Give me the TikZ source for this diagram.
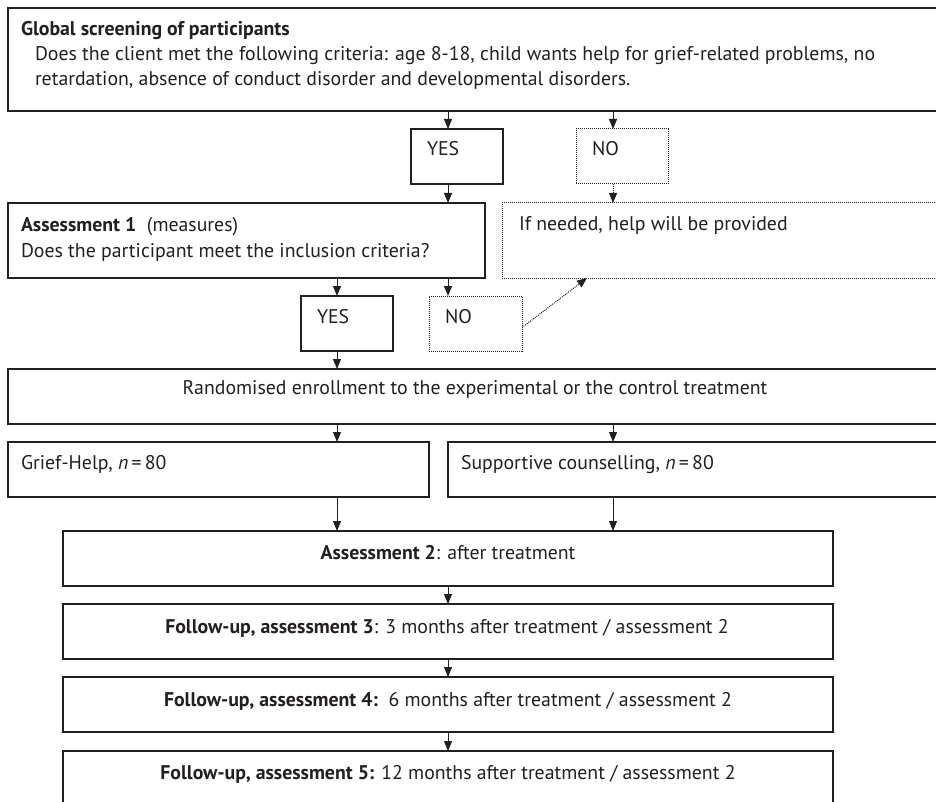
\documentclass[tikz,border=0pt]{standalone}
\usepackage{fontspec}
\setmainfont{PT Sans}
\usetikzlibrary{arrows.meta}
\definecolor{ink}{HTML}{231F20}
\newcommand\mkbox[6]{\node[#1, minimum width={(#4)-(#2)}, minimum height={(#5)-(#3)}] (#6) at (#2,#3) {};}
\begin{document}
\begin{tikzpicture}[x=1pt,y=-1pt,
  box/.style={draw=ink, line width=1.3pt, rectangle, inner sep=0pt, outer sep=0pt, anchor=north west},
  dbox/.style={box, line width=1pt, densely dotted},
  txt/.style={inner sep=0pt, outer sep=0pt, anchor=base west, text=ink, font=\fontsize{19.8}{25}\selectfont},
  ctxt/.style={txt, anchor=base},
  arr/.style={draw=ink, line width=1pt, -{Triangle[width=8pt,length=10pt]}},
  darr/.style={arr, densely dotted}]
\clip (0,0) rectangle (936,802);
\fill[white] (0,0) rectangle (936,802);
% coordinates for arrow columns
\coordinate (c337) at (337,0);
\coordinate (c448) at (448,0);
\coordinate (c613) at (613,0);
% boxes
\mkbox{box}{8}{8}{945}{111}{top}
\mkbox{box}{411}{129}{503}{184}{yes1}
\mkbox{dbox}{576}{129}{668}{184}{no1}
\mkbox{box}{8}{203}{485}{278}{ass1}
\mkbox{dbox}{502}{203}{945}{278}{help}
\mkbox{box}{301}{296}{393}{351}{yes2}
\mkbox{dbox}{429}{296}{522}{351}{no2}
\mkbox{box}{8}{369}{945}{424}{rand}
\mkbox{box}{8}{442}{429}{497}{grief}
\mkbox{box}{448}{442}{945}{497}{supp}
\mkbox{box}{63}{531}{833}{586}{ass2}
\mkbox{box}{63}{604}{833}{659}{fu3}
\mkbox{box}{63}{677}{833}{732}{fu4}
\mkbox{box}{63}{751}{833}{830}{fu5}
% texts
\node[txt] (t1) at (21,36) {\textbf{Global screening of participants}};
\node[txt] (t2) at (35,61) {Does the client met the following criteria: age 8-18, child wants help for grief-related problems, no};
\node[txt] (t3) at (35,86) {retardation, absence of conduct disorder and developmental disorders.};
\node[txt] (ty1) at (427,156) {YES};
\node[txt] (tn1) at (592,156) {NO};
\node[txt] (ta1) at (21,232) {\textbf{Assessment 1}\ \ (measures)};
\node[txt] (ta1b) at (21,257) {Does the participant meet the inclusion criteria?};
\node[txt] (th) at (519,230) {If needed, help will be provided};
\node[txt] (ty2) at (317,323) {YES};
\node[txt] (tn2) at (445,323) {NO};
\node[ctxt] (tr) at (475,394) {Randomised enrollment to the experimental or the control treatment};
\node[txt] (tg) at (21,469) {Grief-Help, \textit{n}\,=\,80};
\node[txt] (ts) at (461,469) {Supportive counselling, \textit{n}\,=\,80};
\node[ctxt] (ta2) at (448,559) {\textbf{Assessment 2}: after treatment};
\node[ctxt] (tf3) at (447,633) {\textbf{Follow-up, assessment 3}: 3 months after treatment / assessment 2};
\node[ctxt] (tf4) at (448,706) {\textbf{Follow-up, assessment 4:}\ \ 6 months after treatment / assessment 2};
\node[ctxt] (tf5) at (448,779) {\textbf{Follow-up, assessment 5:} 12 months after treatment / assessment 2};
% connectors
\draw[arr] (top.south -| c448) -- (yes1.north -| c448);
\draw[arr] (top.south -| c613) -- (no1.north -| c613);
\draw[arr] (yes1.south -| c448) -- (ass1.north -| c448);
\draw[darr] (no1.south -| c613) -- (help.north -| c613);
\draw[arr] (ass1.south -| c337) -- (yes2.north -| c337);
\draw[arr] (ass1.south -| c448) -- (no2.north -| c448);
\draw[darr] ([yshift=-4pt]no2.east) -- (help.south -| 587,0);
\draw[arr] (yes2.south -| c337) -- (rand.north -| c337);
\draw[arr] (rand.south -| c337) -- (grief.north -| c337);
\draw[arr] (rand.south -| c613) -- (supp.north -| c613);
\draw[arr] (grief.south -| c337) -- (ass2.north -| c337);
\draw[arr] (supp.south -| c613) -- (ass2.north -| c613);
\draw[arr] (ass2.south -| c448) -- (fu3.north -| c448);
\draw[arr] (fu3.south -| c448) -- (fu4.north -| c448);
\draw[arr] (fu4.south -| c448) -- (fu5.north -| c448);
\end{tikzpicture}
\end{document}
